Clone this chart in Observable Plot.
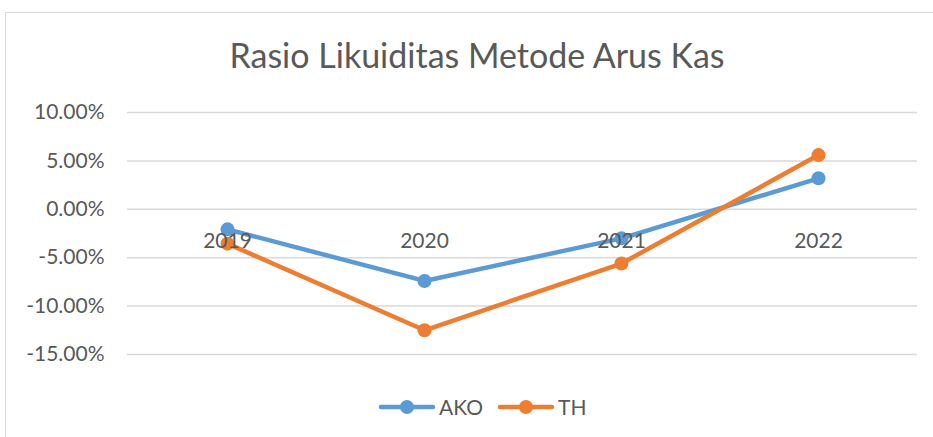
<!DOCTYPE html>
<html><head><meta charset="utf-8">
<script src="https://cdn.jsdelivr.net/npm/d3@7"></script>
<script src="https://cdn.jsdelivr.net/npm/@observablehq/plot@0.6"></script>
<style>
body{margin:0;background:#fff;overflow:hidden;}
#wrap{position:relative;width:933px;height:437px;font-family:Lato,sans-serif;color:#595959;overflow:hidden;}
#frame{position:absolute;left:5px;top:12px;width:1000px;height:1000px;border:1.5px solid #d9d9d9;box-sizing:border-box;}
#title{position:absolute;left:0;width:954px;top:34px;text-align:center;font-size:34px;white-space:nowrap;}
#chart{position:absolute;left:0;top:0;}
#legend{position:absolute;left:378px;top:394px;display:flex;align-items:center;font-size:21px;}
#legend .item{display:flex;align-items:center;margin-right:14px;}
#legend svg{margin-right:3px;}
</style>
</head><body>
<div id="wrap">
  <div id="frame"></div>
  <div id="chart"></div>
  <div id="title">Rasio Likuiditas Metode Arus Kas</div>
  <div id="legend"></div>
</div>
<script>
const years = ["2019", "2020", "2021", "2022"];
const seriesNames = ["AKO", "TH"];
const ako = [-0.0207, -0.074, -0.030, 0.032];
const th = [-0.0355, -0.125, -0.056, 0.056];
const colors = ["#5B9BD5", "#ED7D31"];
const yTicks = [-0.15, -0.10, -0.05, 0, 0.05, 0.10];

const seriesValues = [ako, th];
const rows = seriesNames.map((s, i) => years.map((yr, j) => ({series: s, year: yr, value: seriesValues[i][j]})));
const pct = d3.formatLocale({decimal: ".", thousands: ",", grouping: [3], currency: ["", ""], minus: "-"}).format(".2%");

const marks = [
  Plot.gridY(yTicks, {stroke: "#d9d9d9", strokeOpacity: 1, strokeWidth: 1.5}),
  Plot.axisY(yTicks, {tickSize: 0, tickPadding: 23, tickFormat: pct, fill: "#595959", fontSize: 21, label: null})
];
rows.forEach((data, i) => {
  marks.push(Plot.line(data, {x: "year", y: "value", stroke: colors[i], strokeWidth: 4.5}));
  marks.push(Plot.dot(data, {x: "year", y: "value", fill: colors[i], r: 7}));
});
marks.push(Plot.text(years, {x: d => d, y: () => 0, dy: 32, fill: "#595959", fontSize: 21, text: d => d}));

const chart = Plot.plot({
  width: 933,
  height: 437,
  marginTop: 112,
  marginBottom: 83,
  marginLeft: 127,
  marginRight: 16,
  style: {fontFamily: "Lato, sans-serif", background: "transparent", color: "#595959"},
  x: {type: "point", domain: years, padding: 0.5, axis: null},
  y: {domain: [-0.15, 0.10], axis: null},
  marks
});
document.getElementById("chart").appendChild(chart);

const legend = document.getElementById("legend");
seriesNames.forEach((s, i) => {
  const item = document.createElement("div");
  item.className = "item";
  item.innerHTML = `<svg width="58" height="16"><line x1="3" x2="55" y1="8" y2="8" stroke="${colors[i]}" stroke-width="4.5" stroke-linecap="round"/><circle cx="29" cy="8" r="7" fill="${colors[i]}"/></svg><span>${s}</span>`;
  legend.appendChild(item);
});
</script>
</body></html>
